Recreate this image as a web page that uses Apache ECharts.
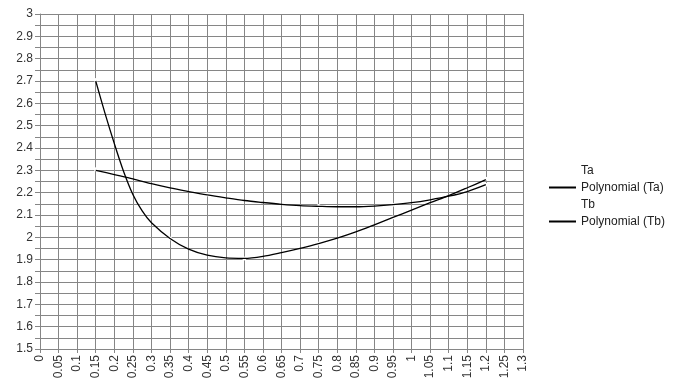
<!DOCTYPE html>
<html>
<head>
<meta charset="utf-8">
<script src="https://cdn.jsdelivr.net/npm/echarts@6/dist/echarts.min.js"></script>
<style>html,body{margin:0;padding:0;background:#fff}#c{width:677px;height:390px}</style>
</head>
<body>
<div id="c"></div>
<script>
// Trendline readings (x, y)
const polyTaX = [0.15,0.2,0.25,0.3,0.35,0.4,0.45,0.5,0.55,0.6,0.65,0.7,0.75,0.8,0.85,0.9,0.95,1.0,1.05,1.1,1.15,1.2];
const polyTaY = [2.300,2.281,2.262,2.240,2.221,2.205,2.190,2.177,2.165,2.156,2.148,2.142,2.139,2.137,2.137,2.140,2.146,2.155,2.168,2.184,2.205,2.236];
const polyTbX = [0.15,0.175,0.2,0.225,0.25,0.275,0.3,0.35,0.4,0.45,0.5,0.55,0.6,0.65,0.7,0.75,0.8,0.85,0.9,0.95,1.0,1.05,1.1,1.15,1.2];
const polyTbY = [2.700,2.555,2.420,2.295,2.192,2.118,2.065,1.995,1.947,1.920,1.908,1.906,1.915,1.932,1.951,1.972,1.996,2.024,2.056,2.089,2.122,2.155,2.187,2.222,2.258];
// Data series (drawn white, as in the reference)
const taX = [0.15,0.45,0.75,0.95,1.2];
const taY = [2.305,2.192,2.140,2.146,2.236];
const tbX = [0.15,0.35,0.55,0.75,0.95,1.2];
const tbY = [2.705,1.995,1.905,1.972,2.089,2.262];
const legendNames = ['Ta','Polynomial (Ta)','Tb','Polynomial (Tb)'];

const zip = (xs, ys) => xs.map((x, i) => [x, ys[i]]);
const grey = '#868686';
const font = 'Liberation Sans, Arial, sans-serif';

const chart = echarts.init(document.getElementById('c'), null, {renderer: 'canvas'});
chart.setOption({
  animation: false,
  backgroundColor: '#fff',
  grid: {left: 40, right: 154, top: 14, bottom: 41, containLabel: false},
  legend: {
    orient: 'vertical', left: 543, top: 157,
    itemWidth: 27, itemHeight: 1, itemGap: 0,
    data: legendNames,
    textStyle: {fontFamily: font, fontSize: 12, color: '#222', lineHeight: 17}
  },
  xAxis: {
    type: 'value', min: 0, max: 1.3, interval: 0.05,
    axisLine: {show: true, lineStyle: {color: grey, width: 1}},
    axisTick: {show: true, length: 4, lineStyle: {color: grey}},
    splitLine: {show: true, lineStyle: {color: grey, width: 1}},
    axisLabel: {rotate: 90, fontFamily: font, fontSize: 12, color: '#333', margin: 6,
      formatter: v => String(+v.toFixed(2))}
  },
  yAxis: {
    type: 'value', min: 1.5, max: 3, interval: 0.1,
    axisLine: {show: true, lineStyle: {color: grey, width: 1}},
    axisTick: {show: true, length: 5, lineStyle: {color: grey}},
    minorTick: {show: true, splitNumber: 2, length: 5, lineStyle: {color: grey}},
    splitLine: {show: true, lineStyle: {color: grey, width: 1}},
    minorSplitLine: {show: true, lineStyle: {color: grey, width: 1}},
    axisLabel: {fontFamily: font, fontSize: 12, color: '#333', margin: 7,
      formatter: v => String(+v.toFixed(1))}
  },
  series: [
    {name: 'Ta', type: 'line', data: zip(taX, taY), z: 1, symbol: 'circle', symbolSize: 4,
      legendIcon: 'rect',
      itemStyle: {color: '#fff'}, lineStyle: {color: '#fff', width: 0, opacity: 0}},
    {name: 'Polynomial (Ta)', type: 'line', data: zip(polyTaX, polyTaY), z: 3, smooth: 0.3, symbol: 'none',
      legendIcon: 'rect',
      itemStyle: {color: '#000'}, lineStyle: {color: '#000', width: 1.3}},
    {name: 'Tb', type: 'line', data: zip(tbX, tbY), z: 1, symbol: 'circle', symbolSize: 4,
      legendIcon: 'rect',
      itemStyle: {color: '#fff'}, lineStyle: {color: '#fff', width: 0, opacity: 0}},
    {name: 'Polynomial (Tb)', type: 'line', data: zip(polyTbX, polyTbY), z: 3, smooth: 0.3, symbol: 'none',
      legendIcon: 'rect',
      itemStyle: {color: '#000'}, lineStyle: {color: '#000', width: 1.3}}
  ]
});
</script>
</body>
</html>
